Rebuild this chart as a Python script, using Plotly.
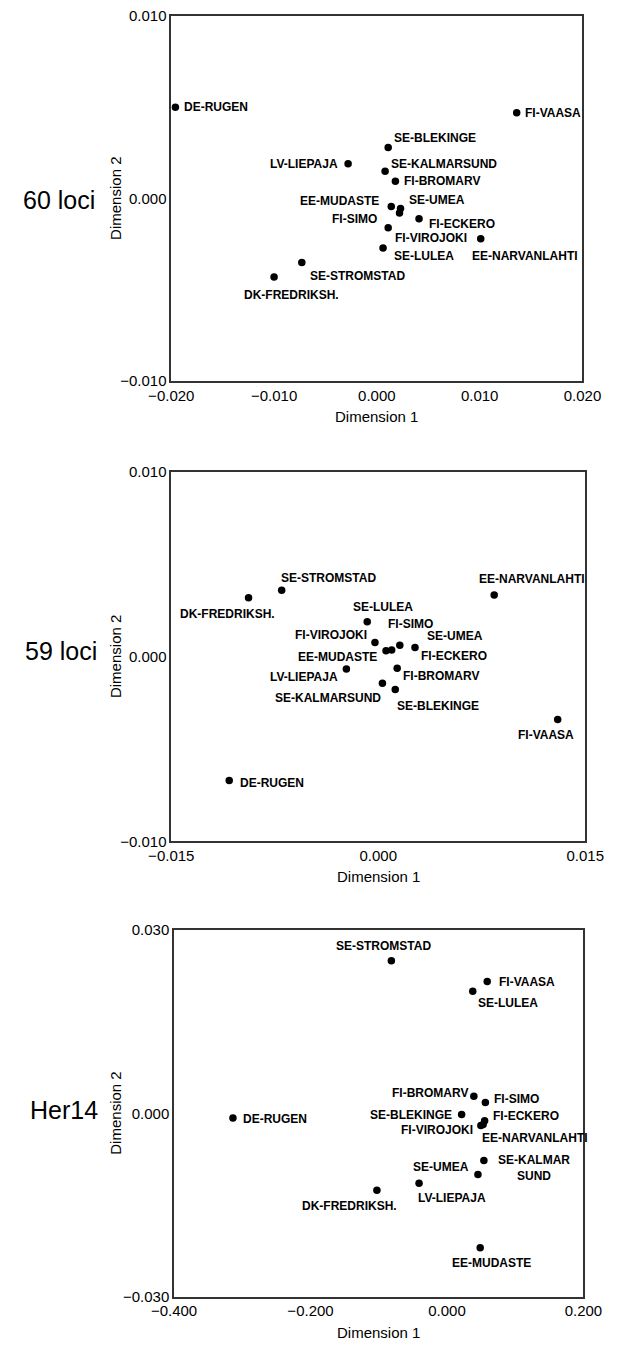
import plotly.graph_objects as go

# ---------------- data ----------------
# Panel 1: 60 loci
names1 = ["DE-RUGEN", "FI-VAASA", "SE-BLEKINGE", "LV-LIEPAJA", "SE-KALMARSUND",
          "FI-BROMARV", "EE-MUDASTE", "SE-UMEA", "FI-SIMO", "FI-ECKERO",
          "FI-VIROJOKI", "SE-LULEA", "EE-NARVANLAHTI", "SE-STROMSTAD", "DK-FREDRIKSH."]
x1 = [-0.0196, 0.0136, 0.0011, -0.0028, 0.0008, 0.0018, 0.0014, 0.0023, 0.0022, 0.0041,
      0.0011, 0.0006, 0.0101, -0.0073, -0.0100]
y1 = [0.0050, 0.0047, 0.0028, 0.0019, 0.0015, 0.00095, -0.00043, -0.00054, -0.00079, -0.0011,
      -0.0016, -0.0027, -0.0022, -0.0035, -0.0043]

# Panel 2: 59 loci
names2 = ["SE-STROMSTAD", "DK-FREDRIKSH.", "EE-NARVANLAHTI", "SE-LULEA", "FI-SIMO",
          "FI-VIROJOKI", "EE-MUDASTE", "SE-UMEA", "FI-ECKERO", "FI-BROMARV",
          "LV-LIEPAJA", "SE-KALMARSUND", "SE-BLEKINGE", "FI-VAASA", "DE-RUGEN"]
x2 = [-0.0070, -0.0094, 0.0084, -0.0008, 0.00097, -0.00024, 0.00056, 0.00156, 0.00266, 0.00137,
      -0.00231, 0.0003, 0.00123, 0.0130, -0.0108]
y2 = [0.0036, 0.0032, 0.00335, 0.0019, 0.00036, 0.00077, 0.00032, 0.00062, 0.0005, -0.00062,
      -0.00066, -0.00143, -0.00178, -0.0034, -0.0067]

# Panel 3: Her14
names3 = ["SE-STROMSTAD", "FI-VAASA", "SE-LULEA", "FI-BROMARV", "FI-SIMO",
          "SE-BLEKINGE", "FI-ECKERO", "FI-VIROJOKI", "EE-NARVANLAHTI", "DE-RUGEN",
          "SE-KALMAR<br>SUND", "SE-UMEA", "LV-LIEPAJA", "DK-FREDRIKSH.", "EE-MUDASTE"]
x3 = [-0.0815, 0.059, 0.0378, 0.0394, 0.0563, 0.0215, 0.0552, 0.0497, 0.053, -0.3137,
      0.0541, 0.0454, -0.0409, -0.1027, 0.0487]
y3 = [0.0250, 0.0216, 0.0200, 0.0028, 0.0018, -0.0002, -0.0012, -0.0020, -0.0018, -0.00075,
      -0.0077, -0.0100, -0.01145, -0.0126, -0.0220]

panel_titles = ["60 loci", "59 loci", "Her14"]
xticks = [[-0.020, -0.010, 0.000, 0.010, 0.020], [-0.015, 0.000, 0.015], [-0.400, -0.200, 0.000, 0.200]]
yticks = [[-0.010, 0.000, 0.010], [-0.010, 0.000, 0.010], [-0.030, 0.000, 0.030]]
xranges = [[-0.020, 0.020], [-0.015, 0.015], [-0.400, 0.200]]
yranges = [[-0.010, 0.010], [-0.010, 0.010], [-0.030, 0.030]]

# ---------------- label placement (style) ----------------
# (anchor, x shift px, y shift px; positive y = up)
off1 = [("l", 8, 0), ("l", 7, 0), ("l", 5, 9), ("r", -9, 0), ("l", 5, 7),
        ("l", 8, 0), ("r", -11, 5), ("l", 7, 8), ("r", -21, -6), ("l", 9, -5),
        ("l", 6, -10), ("l", 10, -8), ("c", 44, -17), ("l", 7, -13), ("c", 17, -18)]
off2 = [("l", -2, 12), ("c", -21, -16), ("c", 38, 16), ("c", 16, 15), ("c", 19, 26),
        ("r", -7, 8), ("r", -8, -6), ("l", 26, 9), ("l", 5, -9), ("l", 5, -8),
        ("r", -7, -8), ("c", -54, -15), ("c", 43, -16), ("c", -12, -15), ("l", 10, -3)]
off3 = [("c", -8, 15), ("l", 11, 0), ("c", 35, -12), ("r", -5, 3), ("l", 8, 3),
        ("r", -9, 0), ("l", 7, 5), ("r", -7, -4), ("c", 52, -14), ("l", 9, -1),
        ("l", 13, -8), ("r", -8, 7), ("c", 33, -15), ("c", -27, -16), ("c", 11, -15)]

W, H = 622, 1348
# plot boxes in pixels: (left, top, right, bottom)
boxes = [(159, 7, 600, 377), (159, 469, 603, 843), (162, 933, 601, 1304)]
title_x = [-2, 0, 5]
title_up = [-1, 6, 3.5]

FONT = "Arial, Liberation Sans, Helvetica, sans-serif"
TXT = "#000000"

fig = go.Figure()
annotations = []
datasets = [(names1, x1, y1, off1), (names2, x2, y2, off2), (names3, x3, y3, off3)]
anchor_map = {"l": "left", "r": "right", "c": "center"}

for i, (names, xs, ys, offs) in enumerate(datasets):
    k = "" if i == 0 else str(i + 1)
    fig.add_trace(go.Scatter(
        x=xs, y=ys, mode="markers", xaxis="x" + k, yaxis="y" + k,
        marker=dict(size=7.5, color="#000000"), hoverinfo="skip", showlegend=False))
    for name, xv, yv, (a, dx, dy) in zip(names, xs, ys, offs):
        annotations.append(dict(
            x=xv, y=yv, xref="x" + k, yref="y" + k, text=name, showarrow=False,
            xanchor=anchor_map[a], yanchor="middle", xshift=dx, yshift=dy, align="center",
            font=dict(family=FONT, size=12, color=TXT, weight="bold"), borderpad=0))

    L, T, R, B = boxes[i]
    xd = [L / W, R / W]
    yd = [1 - B / H, 1 - T / H]
    axis_common = dict(showgrid=False, zeroline=False, showline=True, mirror=True,
                       linecolor="#333333", linewidth=1.5, ticks="",
                       tickfont=dict(family=FONT, size=15, color=TXT), tickformat=".3f")
    fig.update_layout(**{
        "xaxis" + k: dict(domain=xd, range=xranges[i], tickvals=xticks[i],
                          anchor="y" + k, **axis_common),
        "yaxis" + k: dict(domain=yd, range=yranges[i], tickvals=yticks[i],
                          anchor="x" + k, **axis_common),
    })
    # axis titles
    annotations.append(dict(x=(L + R) / 2 / W, y=1 - (B + 36) / H, xref="paper", yref="paper",
                            text="Dimension 1", showarrow=False, xanchor="center", yanchor="middle",
                            font=dict(family=FONT, size=15, color=TXT)))
    annotations.append(dict(x=99 / W, y=1 - (T + B) / 2 / H, xref="paper", yref="paper",
                            text="Dimension 2", showarrow=False, textangle=-90,
                            xanchor="center", yanchor="middle",
                            font=dict(family=FONT, size=15, color=TXT)))
    # panel title
    annotations.append(dict(x=0, y=1 - ((T + B) / 2 - title_up[i]) / H, xref="paper", yref="paper",
                            xshift=title_x[i], text=panel_titles[i], showarrow=False,
                            xanchor="left", yanchor="middle",
                            font=dict(family=FONT, size=25, color=TXT)))

fig.update_layout(width=W, height=H, margin=dict(l=0, r=0, t=0, b=0),
                  paper_bgcolor="white", plot_bgcolor="white",
                  annotations=annotations, hovermode=False)

fig.write_html("out.html", config={"displayModeBar": False},
               post_script="document.body.style.margin='0';document.body.style.overflow='hidden';")
